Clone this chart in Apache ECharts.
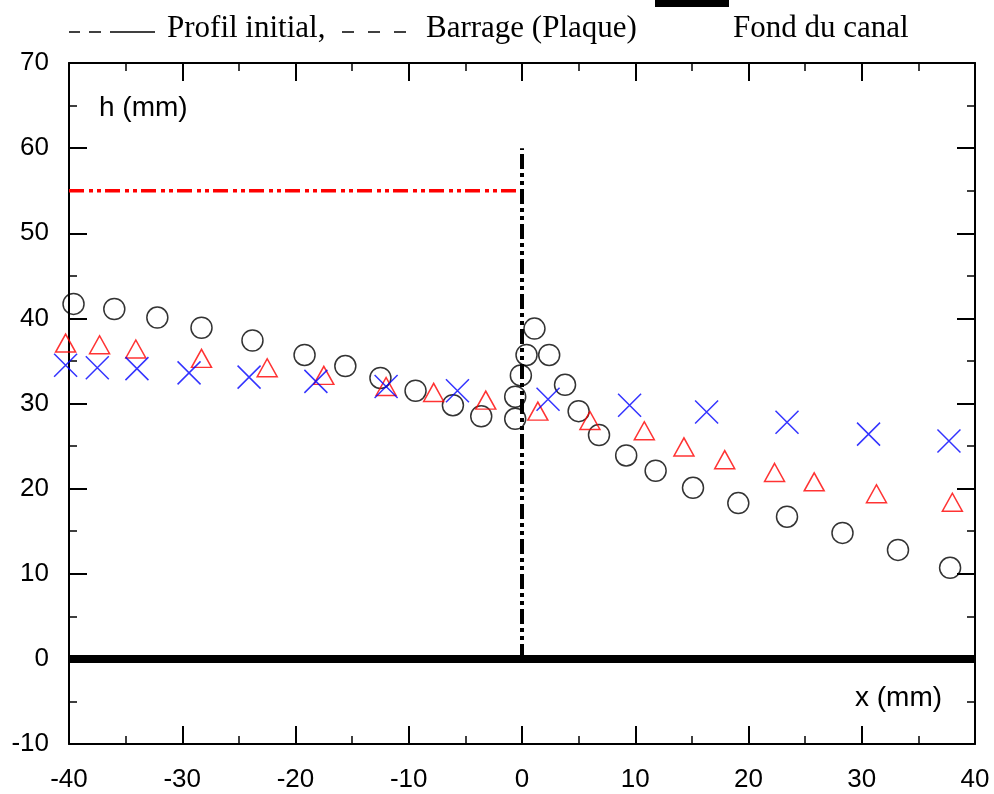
<!DOCTYPE html>
<html>
<head>
<meta charset="utf-8">
<script src="https://cdn.jsdelivr.net/npm/echarts@6/dist/echarts.min.js"></script>
<style>
html,body{margin:0;padding:0;background:#fff;}
#chart{width:994px;height:794px;}
</style>
</head>
<body>
<div id="chart"></div>
<script>
// Circles (black)
const circleX = [-39.6,-36.0,-32.2,-28.3,-23.8,-19.2,-15.6,-12.5,-9.4,-6.1,-3.6,-0.6,-0.6,-0.1,0.4,1.1,2.4,3.8,5.0,6.8,9.2,11.8,15.1,19.1,23.4,28.3,33.2,37.8];
const circleY = [41.7,41.1,40.1,38.9,37.4,35.7,34.4,33.0,31.5,29.8,28.5,30.8,28.2,33.3,35.7,38.8,35.7,32.2,29.1,26.3,23.9,22.1,20.1,18.3,16.7,14.8,12.8,10.7];
// Triangles (red)
const triX = [-40.3,-37.3,-34.1,-28.3,-22.5,-17.5,-12.0,-7.8,-3.2,1.4,6.0,10.8,14.3,17.9,22.3,25.8,31.3,38.0];
const triY = [37.1,36.9,36.4,35.3,34.2,33.3,32.0,31.3,30.4,29.1,28.0,26.8,24.9,23.4,21.9,20.8,19.4,18.4];
// Crosses (blue)
const crossX = [-40.3,-37.5,-34.0,-29.4,-24.1,-18.2,-12.0,-5.7,2.3,9.5,16.3,23.4,30.6,37.7];
const crossY = [34.5,34.2,34.1,33.6,33.1,32.6,32.0,31.5,30.5,29.8,29.0,27.8,26.4,25.6];
// Lines
const initialProfile = [[-40,55],[0,55]];
const dam = [[0,0],[0,60]];
const channelBottom = [[-40,0],[40,0]];
const xTicks = {min:-40,max:40,interval:10};
const yTicks = {min:-10,max:70,interval:10};

const zip = (a,b) => a.map((v,i)=>[v,b[i]]);
const FONT = 'Liberation Sans';
const chart = echarts.init(document.getElementById('chart'));

const axisCommon = {
  axisLine:{show:true,onZero:false,lineStyle:{color:'#000',width:2}},
  axisTick:{show:true,inside:true,length:18,lineStyle:{color:'#000',width:2}},
  minorTick:{show:true,splitNumber:2,length:8,lineStyle:{color:'#000',width:1.5}},
  splitLine:{show:false}
};
const legendFont = '31px "Liberation Serif"';
const dashStyle = {stroke:'#000',lineWidth:1.5};

chart.setOption({
  animation:false,
  backgroundColor:'#fff',
  grid:{left:69,right:19,top:63,bottom:50},
  xAxis:[
    Object.assign({type:'value',position:'bottom',min:xTicks.min,max:xTicks.max,interval:xTicks.interval,
      axisLabel:{show:true,color:'#000',fontFamily:FONT,fontSize:26,margin:23}},axisCommon),
    Object.assign({type:'value',position:'top',min:xTicks.min,max:xTicks.max,interval:xTicks.interval,
      axisLabel:{show:false}},axisCommon)
  ],
  yAxis:[
    Object.assign({type:'value',position:'left',min:yTicks.min,max:yTicks.max,interval:yTicks.interval,
      axisLabel:{show:true,color:'#000',fontFamily:FONT,fontSize:26,margin:20}},axisCommon),
    Object.assign({type:'value',position:'right',min:yTicks.min,max:yTicks.max,interval:yTicks.interval,
      axisLabel:{show:false}},axisCommon)
  ],
  graphic:[
    {type:'text',left:99,top:94,style:{text:'h (mm)',font:'28px "Liberation Sans"',fill:'#000'}},
    {type:'text',left:855,top:684,style:{text:'x (mm)',font:'28px "Liberation Sans"',fill:'#000'}},
    // legend
    {type:'line',shape:{x1:69,y1:32,x2:80,y2:32},style:dashStyle},
    {type:'line',shape:{x1:89,y1:32,x2:101,y2:32},style:dashStyle},
    {type:'line',shape:{x1:110,y1:32,x2:155,y2:32},style:dashStyle},
    {type:'text',left:167,top:13,style:{text:'Profil initial,',font:legendFont,fill:'#000'}},
    {type:'line',shape:{x1:342,y1:32,x2:354,y2:32},style:dashStyle},
    {type:'line',shape:{x1:368,y1:32,x2:380,y2:32},style:dashStyle},
    {type:'line',shape:{x1:394,y1:32,x2:406,y2:32},style:dashStyle},
    {type:'text',left:426,top:13,style:{text:'Barrage (Plaque)',font:legendFont,fill:'#000'}},
    {type:'rect',shape:{x:655,y:0,width:74,height:7},style:{fill:'#000'}},
    {type:'text',left:733,top:13,style:{text:'Fond du canal',font:legendFont,fill:'#000'}}
  ],
  series:[
    {type:'line',data:channelBottom,symbol:'none',lineStyle:{color:'#000',width:8},z:3},
    {type:'line',data:initialProfile,symbol:'none',lineStyle:{color:'#ff0000',width:3.5,type:[15,5,4,4,4,4]},z:3},
    {type:'line',data:dam,symbol:'none',lineStyle:{color:'#000',width:4,type:[15,4,4,4,4,4]},z:3},
    {type:'scatter',data:zip(circleX,circleY),symbol:'circle',symbolSize:21,clip:false,
      itemStyle:{color:'rgba(0,0,0,0)',borderColor:'#000',borderWidth:1.5},z:4},
    {type:'scatter',data:zip(triX,triY),symbol:'triangle',symbolSize:[20,18],clip:false,
      itemStyle:{color:'rgba(0,0,0,0)',borderColor:'#ff0000',borderWidth:1.5},z:4},
    {type:'scatter',data:zip(crossX,crossY),symbol:'path://M0,0L10,10M10,0L0,10',symbolSize:23,clip:false,
      itemStyle:{color:'rgba(0,0,0,0)',borderColor:'#0000ff',borderWidth:1.5},z:4}
  ]
});
</script>
</body>
</html>
